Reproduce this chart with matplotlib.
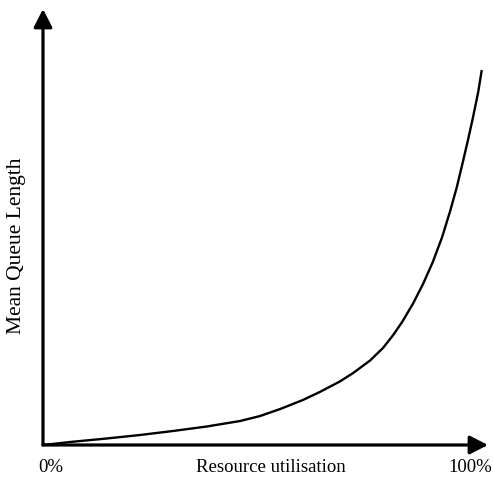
import numpy as np
import matplotlib
matplotlib.use('Agg')
import matplotlib.pyplot as plt

# utilisation (fraction) and mean queue length (arbitrary units)
utilisation = [0.0, 0.061, 0.143, 0.218, 0.292, 0.368, 0.443, 0.488, 0.533,
               0.584, 0.622, 0.667, 0.697, 0.735, 0.764, 0.787, 0.807, 0.831,
               0.854, 0.876, 0.897, 0.915, 0.930, 0.944, 0.955, 0.966, 0.978,
               0.986]
queue_len = [0.0, 0.3, 0.65, 1.0, 1.4, 1.85, 2.4, 2.9, 3.6,
             4.5, 5.3, 6.35, 7.2, 8.45, 9.7, 11.0, 12.3, 14.1,
             16.1, 18.3, 20.8, 23.4, 25.8, 28.4, 30.5, 32.7, 35.3,
             37.5]

x_labels = ['0%', 'Resource utilisation', '100%']
y_label = 'Mean Queue Length'

plt.rcParams['font.family'] = ['Liberation Serif', 'DejaVu Serif']

W, H = 493, 480
fig = plt.figure(figsize=(W / 100, H / 100), dpi=100)
# axes placed in pixel terms: origin at (43,445), x arrow tip at 488, y arrow tip at 9
ax = fig.add_axes([43 / W, (H - 445) / H, 445 / W, (445 - 9) / H])
ax.set_xlim(0, 1)
ax.set_ylim(0, 43.6)
ax.axis('off')

arrow = dict(arrowstyle='-|>,head_length=0.55,head_width=0.28', lw=2.3,
             color='black', shrinkA=0, shrinkB=0, mutation_scale=20)
ax.annotate('', xy=(1, 0), xytext=(0, 0), xycoords='axes fraction',
            textcoords='axes fraction', arrowprops=arrow, annotation_clip=False)
ax.annotate('', xy=(0, 1), xytext=(0, 0), xycoords='axes fraction',
            textcoords='axes fraction', arrowprops=arrow, annotation_clip=False)

ax.plot(utilisation, queue_len, color='black', lw=1.7,
        solid_joinstyle='round', solid_capstyle='butt', clip_on=False)

# labels
ty = 1 - 468 / H
fig.text(51 / W, ty, x_labels[0], ha='center', va='center', fontsize=13.5)
fig.text(271 / W, ty, x_labels[1], ha='center', va='center', fontsize=13.5)
fig.text(470 / W, ty, x_labels[2], ha='center', va='center', fontsize=13.5)
fig.text(17 / W, 1 - 246 / H, y_label, ha='center', va='center',
         rotation=90, fontsize=15.5)

fig.savefig('out.png', dpi=100)
